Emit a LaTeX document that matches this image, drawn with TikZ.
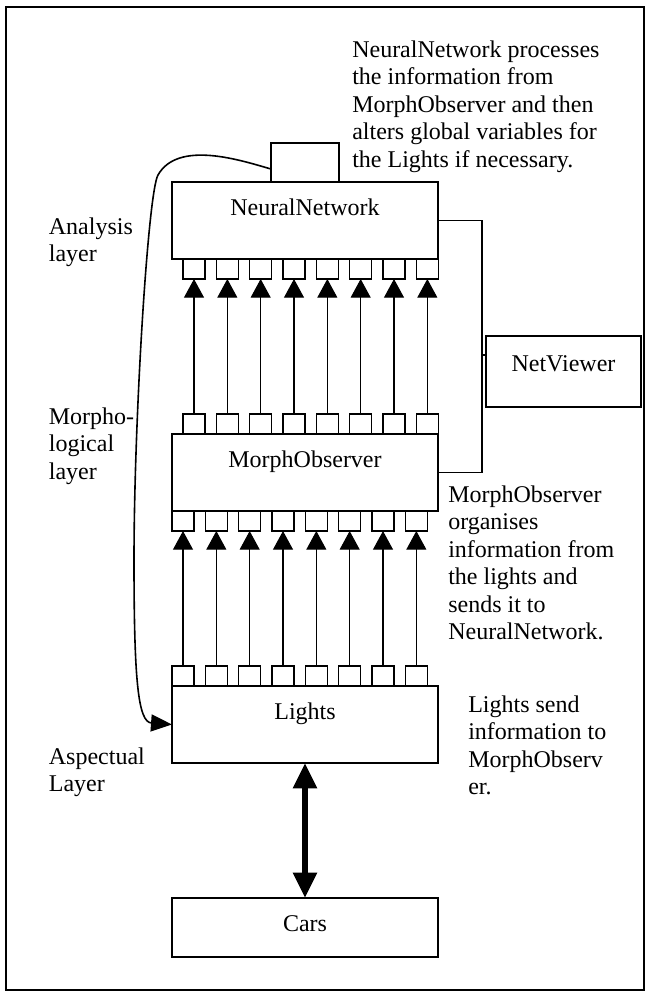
\documentclass[tikz,border=0pt]{standalone}
\usepackage{fontspec}
\setmainfont{Liberation Serif}
\usepackage{tikz}
\usetikzlibrary{positioning}
\usetikzlibrary{arrows.meta}
\tikzset{>={Triangle[width=15pt,length=14pt]}}

\begin{document}
\begin{tikzpicture}[x=0.75pt, y=-0.75pt, every node/.style={font=\fontsize{18}{20.6}\selectfont}, layerbox/.style={draw, line width=1.1pt, minimum width=199.5pt, inner sep=0pt, outer sep=0pt, text height=24.75pt, text depth=33pt}, port/.style={draw, line width=1.1pt, minimum width=16.5pt, minimum height=15pt, inner sep=0pt, outer sep=0pt}, note/.style={align=left, inner sep=0pt, anchor=north west}]

    \useasboundingbox (0,0) rectangle (645,991);
    \draw[line width=1.2pt] (6,7) rectangle (643.8,989.8);

    %Nodes
    \node[layerbox](nn) at (305,220.5){NeuralNetwork};
    \node[layerbox](mo)[below=131.25pt of nn]{MorphObserver};
    \node[layerbox](lights)[below=131.25pt of mo]{Lights};
    \node[layerbox, text depth=19.5pt](cars)[below=101.25pt of lights]{Cars};
    \node[port, minimum width=51pt, minimum height=29.25pt](sbox)[above=0pt of nn]{};
    \node[layerbox, minimum width=116.25pt, text height=26.25pt, text depth=27pt](nv) at (563.5,371.5){NetViewer};

    \foreach \i in {1,...,8} {
        \node[port, anchor=north west](nnp\i) at ([xshift={8.25pt+(\i-1)*25pt}]nn.south west){};
        \node[port, anchor=south west](mot\i) at ([xshift={8.25pt+(\i-1)*25pt}]mo.north west){};
        \node[port, anchor=north west](mob\i) at ([xshift={(\i-1)*25pt}]mo.south west){};
        \node[port, anchor=south west](lt\i) at ([xshift={(\i-1)*25pt}]lights.north west){};
    }

    %Texts
    \node[note](nn_note) at (352,40.6){NeuralNetwork processes\\the information from\\MorphObserver and then\\alters global variables for\\the Lights if necessary.};
    \node[note](mo_note) at (448,485.6){MorphObserver\\organises\\information from\\the lights and\\sends it to\\NeuralNetwork.};
    \node[note](lights_note) at (468,695.6){Lights send\\information to\\MorphObserv\\er.};
    \node[note](analysis) at (48.6,217.6){Analysis\\layer};
    \node[note](morpho) at (48.6,407.6){Morpho-\\logical\\layer};
    \node[note](aspect) at (48.6,747.6){Aspectual\\Layer};

    %Lines
    \foreach \i in {1,...,8} {
        \draw[->, line width=0.8pt] (mot\i.north) -- (nnp\i.south);
        \draw[->, line width=0.8pt] (lt\i.north) -- (mob\i.south);
    }
    \draw[line width=1.1pt] (nn.east) -- ++(44,0) |- (mo.east);
    \draw[line width=1.1pt] ([yshift=12.4pt]nv.west) -- ++(-4,0);
    \draw[{Triangle[width=17pt,length=19pt]}-{Triangle[width=17pt,length=19pt]}, line width=5pt] (lights.south) -- (cars.north);
    \draw[line width=1.2pt, -{Triangle[width=12.75pt,length=15.75pt]}] ([yshift=-4.9pt]sbox.west) .. controls (240,160) and (178,140) .. (158,175) .. controls (148,192.5) and (134,420) .. (134,560) .. controls (134,680) and (138,722) .. (lights.west);

\end{tikzpicture}
\end{document}
